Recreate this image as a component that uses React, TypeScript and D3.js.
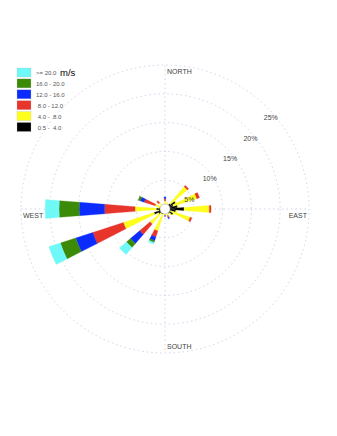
import React from "react";
import * as d3 from "d3";

// wind rose: 32 direction sectors (compass degrees), percent of time per speed class
const directions = [
  0, 11.25, 22.5, 33.75, 45, 56.25, 67.5, 78.75, 90, 101.25, 112.5, 123.75,
  135, 146.25, 157.5, 168.75, 180, 191.25, 202.5, 213.75, 225, 236.25, 247.5,
  258.75, 270, 281.25, 292.5, 303.75, 315, 326.25, 337.5, 348.75,
];

const speedLabels = [">= 20.0", "16.0 - 20.0", "12.0 - 16.0", " 8.0 - 12.0", " 4.0 -  8.0", " 0.5 -  4.0"];
const speedColors = ["#6ef8f8", "#3b8a08", "#0b2bff", "#e8352b", "#ffff1e", "#000000"];

// per-class frequencies (%) in the same order as directions
const pctCalm = [0.4, 0.3, 0.6, 0.8, 1.2, 2.1, 1.5, 2.2, 3.3, 1.9, 1.0, 1.6, 1.0, 0.7, 0.6, 0.6, 0.8, 0.6, 0.8, 1.0, 0.8, 1.3, 2.0, 1.1, 1.5, 1.0, 0.8, 0.6, 0.6, 0.4, 0.5, 0.3];
const pct4to8 = [1.0, 0, 0.6, 0, 3.9, 0.2, 4.3, 0.2, 4.4, 0.2, 3.6, 0.1, 0.4, 0, 0.6, 0, 0.3, 0, 3.2, 0, 2.6, 0.3, 5.6, 0.2, 3.7, 0.2, 1.0, 0, 0.8, 0, 0.4, 0];
const pct8to12 = [0.4, 0, 0, 0, 0.3, 0, 0.5, 0, 0.3, 0, 0.3, 0, 0, 0, 0.4, 0, 0, 0, 1.1, 0, 2.4, 0, 5.6, 0, 5.3, 0, 2.0, 0, 0.5, 0, 0, 0];
const pct12to16 = [0.3, 0, 0, 0, 0, 0, 0, 0, 0, 0, 0, 0, 0, 0, 0.2, 0, 0.2, 0, 0.7, 0, 2.1, 0, 3.1, 0, 4.4, 0, 0.7, 0, 0, 0, 0, 0];
const pct16to20 = [0, 0, 0, 0, 0, 0, 0, 0, 0, 0, 0, 0, 0, 0, 0, 0, 0, 0, 0.3, 0, 0.9, 0, 2.8, 0, 3.5, 0, 0.4, 0, 0, 0, 0, 0];
const pctOver20 = [0, 0, 0, 0, 0, 0, 0, 0, 0, 0, 0, 0, 0, 0, 0, 0, 0, 0, 0.3, 0, 1.6, 0, 2.1, 0, 2.4, 0, 0, 0, 0, 0, 0, 0];

const rings = [5, 10, 15, 20, 25];

export default function App() {
  const width = 337;
  const height = 436;
  const cx = 165;
  const cy = 209;
  const R = 144;
  const hole = 5;

  const r = d3.scaleLinear().domain([0, 25]).range([0, R]);
  const half = (4.5 * Math.PI) / 180;
  const arc = d3.arc<any>();

  // inner to outer
  const stack = [pctCalm, pct4to8, pct8to12, pct12to16, pct16to20, pctOver20];
  const stackColors = speedColors.slice().reverse();

  const wedges: { d: string; fill: string }[] = [];
  directions.forEach((dir, i) => {
    let cum = 0;
    const a = (dir * Math.PI) / 180;
    stack.forEach((s, k) => {
      const v = s[i];
      if (v <= 0) return;
      const r0 = Math.max(hole, r(cum));
      cum += v;
      const r1 = r(cum);
      if (r1 <= r0) return;
      wedges.push({
        d: arc({ innerRadius: r0, outerRadius: r1, startAngle: a - half, endAngle: a + half }) as string,
        fill: stackColors[k],
      });
    });
  });

  const grid = "#c3cae3";
  const lab = "#444";
  const d45 = Math.SQRT1_2;

  return (
    <svg width={width} height={height} style={{ position: "absolute", left: 0, top: 0, background: "#fff" }}
      fontFamily="Liberation Sans, Arial, sans-serif">
      <g transform={`translate(${cx},${cy})`}>
        {rings.map((p) => (
          <circle key={p} r={r(p)} fill="none" stroke={grid} strokeWidth={0.8} strokeDasharray="1.5,3" />
        ))}
        <line x1={-R} x2={R} y1={0} y2={0} stroke={grid} strokeWidth={0.8} strokeDasharray="1.5,3" />
        <line x1={0} x2={0} y1={-R} y2={R} stroke={grid} strokeWidth={0.8} strokeDasharray="1.5,3" />
        {wedges.map((w, i) => (
          <path key={i} d={w.d} fill={w.fill} stroke={w.fill} strokeWidth={0.3} />
        ))}
        <circle r={hole} fill="#fff" stroke="#999" strokeWidth={0.5} />
        {rings.map((p) => (
          <text key={p} x={r(p) * d45 + 4} y={-r(p) * d45 + 13} fontSize={7} fill={lab} textAnchor="middle">
            {p}%
          </text>
        ))}
        <text x={2} y={-R + 9} fontSize={7} fill={lab}>NORTH</text>
        <text x={2} y={R - 4} fontSize={7} fill={lab}>SOUTH</text>
        <text x={R - 2} y={8.5} fontSize={7} fill={lab} textAnchor="end">EAST</text>
        <text x={-R + 2} y={8.5} fontSize={7} fill={lab}>WEST</text>
      </g>
      <g transform="translate(17,68)">
        {speedLabels.map((t, i) => (
          <g key={t} transform={`translate(0,${i * 10.9})`}>
            <rect width={14} height={9} fill={speedColors[i]} stroke="#bbb" strokeWidth={0.3} />
            <text x={19} y={7} fontSize={6} fill="#555" style={{ whiteSpace: "pre" }}>{t}</text>
          </g>
        ))}
        <text x={43} y={8} fontSize={9.5} fill="#000">m/s</text>
      </g>
    </svg>
  );
}
